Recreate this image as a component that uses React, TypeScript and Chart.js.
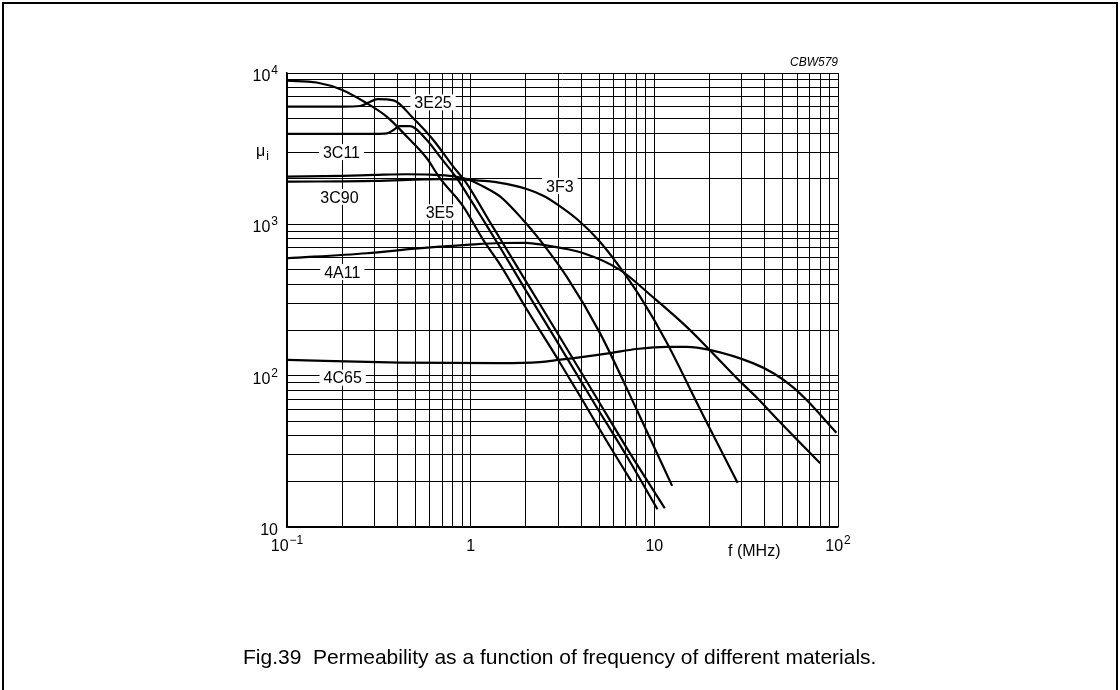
import React, { useEffect, useRef } from "react";
import { Chart, registerables } from "chart.js";

Chart.register(...registerables);

// ---- Data (frequency in MHz, initial permeability) ----
const f3E5 = [0.1, 0.145, 0.2, 0.272, 0.349, 0.449, 0.577, 0.68, 0.912, 1.17, 1.45, 2.0, 3.0, 4.06, 5.5, 7.5];
const mu3E5 = [8900, 8650, 7730, 6310, 5150, 3800, 2735, 2018, 1309, 789, 540, 280, 127, 69, 37, 20];

const f3E25 = [0.1, 0.2, 0.25, 0.28, 0.31, 0.38, 0.487, 0.626, 0.804, 0.95, 1.27, 1.45, 2.0, 3.0, 4.7, 7.0, 11.4];
const mu3E25 = [6000, 6000, 6050, 6400, 6720, 6600, 5020, 3610, 2405, 1866, 1040, 800, 420, 187, 76, 34, 13.3];

const f3C11 = [0.1, 0.3, 0.35, 0.38, 0.41, 0.467, 0.577, 0.68, 0.84, 0.95, 1.17, 1.45, 2.0, 3.0, 4.7, 7.0, 10.4];
const mu3C11 = [3955, 3960, 3990, 4200, 4450, 4450, 3610, 2800, 2018, 1603, 1069, 700, 365, 163, 66, 30, 13.1];

const f3C90 = [0.1, 0.2, 0.3, 0.449, 0.6, 0.8, 1.0, 1.2, 1.45, 1.93, 2.38, 3.34, 5.06, 8.0, 12.5];
const mu3C90 = [2066, 2090, 2120, 2143, 2130, 2080, 1950, 1750, 1524, 1069, 789, 449, 191, 60, 18.7];

const f3F3 = [0.1, 0.3, 0.68, 1.0, 1.45, 2.0, 2.5, 3.0, 3.8, 5.0, 6.5, 8.4, 11.7, 18.4, 28.4];
const mu3F3 = [1914, 1935, 1990, 1965, 1880, 1720, 1540, 1340, 1080, 780, 520, 330, 165, 55, 19.6];

const f4A11 = [0.1, 0.272, 0.5, 0.95, 1.45, 2.0, 2.48, 4.08, 6.5, 9.8, 15, 20, 29.2, 36, 46.4, 80];
const mu4A11 = [597, 644, 690, 731, 753, 755, 731, 647, 500, 331, 210, 148, 92, 72, 52, 26.4];

const f4C65 = [0.1, 0.41, 1.45, 2.38, 2.99, 5.73, 8, 11.7, 15, 20, 34.4, 45, 56.8, 70, 84.9, 98];
const mu4C65 = [127, 122, 121, 123, 127, 141, 150, 155, 155, 148, 121, 103, 84, 66, 51, 42];

const seriesFreq = [f3E5, f3E25, f3C11, f3C90, f3F3, f4A11, f4C65];
const seriesMu = [mu3E5, mu3E25, mu3C11, mu3C90, mu3F3, mu4A11, mu4C65];

// Curve labels (placed in data coordinates)
const labelNames = ["3E25", "3C11", "3C90", "3E5", "3F3", "4A11", "4C65"];
const labelFreq = [0.624, 0.198, 0.193, 0.68, 3.06, 0.2, 0.201];
const labelMu = [6400, 3000, 1520, 1200, 1795, 484, 97];

// Axis limits & tick labels
const xMin = 0.1;
const xMax = 100;
const yMin = 10;
const yMax = 10000;
const xTickValues = [0.1, 1, 10, 100];
const xTickBase = ["10", "1", "10", "10"];
const xTickExp = ["\u22121", "", "", "2"];
const yTickValues = [10, 100, 1000, 10000];
const yTickBase = ["10", "10", "10", "10"];
const yTickExp = ["", "2", "3", "4"];
const gridMultipliers = [1, 2, 3, 4, 5, 6, 7, 8, 9];

const xAxisTitle = "f (MHz)";
const yAxisTitle = "\u03bc";
const yAxisTitleSub = "i";
const codeText = "CBW579";
const captionText = "Fig.39  Permeability as a function of frequency of different materials.";

const FONT = "'Liberation Sans', Arial, Helvetica, sans-serif";

function decadeGrid(min: number, max: number): number[] {
  const out: number[] = [];
  for (let d = min; d < max * 0.999; d *= 10) {
    for (const m of gridMultipliers) out.push(Number((d * m).toPrecision(6)));
  }
  out.push(max);
  return out;
}

function drawPow(ctx: CanvasRenderingContext2D, base: string, exp: string, x: number, baseline: number, align: "right" | "center") {
  ctx.font = `16px ${FONT}`;
  const wb = ctx.measureText(base).width;
  ctx.font = `12px ${FONT}`;
  const we = exp ? ctx.measureText(exp).width : 0;
  const gap = exp ? 1 : 0;
  const total = wb + gap + we;
  const x0 = align === "right" ? x - total : x - total / 2;
  ctx.textAlign = "left";
  ctx.textBaseline = "alphabetic";
  ctx.font = `16px ${FONT}`;
  ctx.fillText(base, x0, baseline);
  if (exp) {
    ctx.font = `12px ${FONT}`;
    ctx.fillText(exp, x0 + wb + gap, baseline - 7);
  }
}

const textPlugin = {
  id: "figureTexts",
  beforeDatasetsDraw(chart: any) {
    const { ctx, scales } = chart;
    const xs = scales.x;
    const ys = scales.y;
    ctx.save();
    // curve labels on white boxes (mask the grid)
    ctx.font = `16px ${FONT}`;
    labelNames.forEach((t, i) => {
      const px = xs.getPixelForValue(labelFreq[i]);
      const py = ys.getPixelForValue(labelMu[i]);
      const w = ctx.measureText(t).width;
      ctx.fillStyle = "#fff";
      ctx.fillRect(px - w / 2 - 4, py - 8, w + 8, 16);
      ctx.fillStyle = "#000";
      ctx.textAlign = "center";
      ctx.textBaseline = "alphabetic";
      ctx.fillText(t, px, py + 5.8);
    });
    ctx.restore();
  },
  afterDraw(chart: any) {
    const { ctx, chartArea, scales } = chart;
    const xs = scales.x;
    const ys = scales.y;
    ctx.save();
    ctx.fillStyle = "#000";
    // y tick labels
    yTickValues.forEach((v, i) => {
      const py = ys.getPixelForValue(v);
      drawPow(ctx, yTickBase[i], yTickExp[i], chartArea.left - 9, py + 8, "right");
    });
    // x tick labels
    xTickValues.forEach((v, i) => {
      const px = xs.getPixelForValue(v);
      drawPow(ctx, xTickBase[i], xTickExp[i], px, chartArea.bottom + 24, "center");
    });
    // x axis title
    ctx.font = `16px ${FONT}`;
    ctx.textAlign = "center";
    ctx.textBaseline = "alphabetic";
    ctx.fillText(xAxisTitle, xs.getPixelForValue(35), chartArea.bottom + 29);
    // y axis title (mu with subscript i)
    const ty = ys.getPixelForValue(3000) + 4;
    ctx.textAlign = "left";
    ctx.font = `16px ${FONT}`;
    const tx = chartArea.left - 31;
    ctx.fillText(yAxisTitle, tx, ty);
    const wm = ctx.measureText(yAxisTitle).width;
    ctx.font = `12px ${FONT}`;
    ctx.fillText(yAxisTitleSub, tx + wm + 1, ty + 4);
    // figure code
    ctx.font = `italic 12px ${FONT}`;
    ctx.textAlign = "right";
    ctx.fillText(codeText, chartArea.right, chartArea.top - 7);
    // caption
    ctx.font = `21px ${FONT}`;
    ctx.textAlign = "left";
    ctx.fillText(captionText, 243, 664);
    ctx.restore();
  },
};

export default function App() {
  const canvasRef = useRef<HTMLCanvasElement | null>(null);

  useEffect(() => {
    const canvas = canvasRef.current;
    if (!canvas) return;
    const datasets = seriesFreq.map((fs, k) => ({
      label: labelNames[k],
      data: fs.map((f, i) => ({ x: f, y: seriesMu[k][i] })),
      showLine: true,
      borderColor: "#000",
      backgroundColor: "#000",
      borderWidth: 2.2,
      pointRadius: 0,
      pointHoverRadius: 0,
      fill: false,
      cubicInterpolationMode: "monotone" as const,
    }));
    const xGrid = decadeGrid(xMin, xMax);
    const yGrid = decadeGrid(yMin, yMax);
    const chart = new Chart(canvas, {
      type: "scatter",
      data: { datasets },
      options: {
        animation: false,
        responsive: false,
        maintainAspectRatio: false,
        devicePixelRatio: 1,
        layout: { padding: { left: 287, top: 73, right: 282, bottom: 163 } },
        plugins: { legend: { display: false }, tooltip: { enabled: false } },
        events: [],
        scales: {
          x: {
            type: "logarithmic",
            min: xMin,
            max: xMax,
            afterBuildTicks: (s: any) => {
              s.ticks = xGrid.map((v) => ({ value: v }));
            },
            afterFit: (s: any) => {
              s.height = 0;
            },
            ticks: { display: false },
            grid: { color: "#000", lineWidth: 1, drawTicks: false },
            border: { display: true, color: "#000", width: 1.5 },
          },
          y: {
            type: "logarithmic",
            min: yMin,
            max: yMax,
            afterBuildTicks: (s: any) => {
              s.ticks = yGrid.map((v) => ({ value: v }));
            },
            afterFit: (s: any) => {
              s.width = 0;
            },
            ticks: { display: false },
            grid: { color: "#000", lineWidth: 1, drawTicks: false },
            border: { display: true, color: "#000", width: 1.5 },
          },
        },
      },
      plugins: [textPlugin],
    } as any);
    return () => chart.destroy();
  }, []);

  return (
    <div style={{ position: "absolute", left: 0, top: 0, width: 1120, height: 690, background: "#fff", overflow: "hidden" }}>
      <div
        style={{
          position: "absolute",
          left: 2,
          top: 2,
          width: 1112,
          height: 720,
          borderLeft: "2px solid #000",
          borderTop: "2px solid #000",
          borderRight: "2px solid #000",
        }}
      />
      <canvas ref={canvasRef} width={1120} height={690} style={{ position: "absolute", left: 0, top: 0, width: 1120, height: 690 }} />
    </div>
  );
}
